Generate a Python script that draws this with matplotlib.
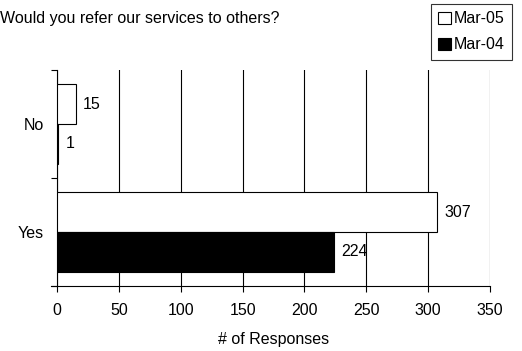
import numpy as np
import matplotlib.pyplot as plt
from matplotlib.patches import Patch

plt.rcParams['font.family'] = ['Liberation Sans', 'DejaVu Sans']

categories = ['No', 'Yes']
mar05 = [15, 307]
mar04 = [1, 224]
series_names = ['Mar-05', 'Mar-04']
xticks = [0, 50, 100, 150, 200, 250, 300, 350]

FS = 11.5
W, H = 522, 351
fig = plt.figure(figsize=(W / 100, H / 100), dpi=100)
ax = fig.add_axes([57 / W, 1 - 286 / H, (490 - 57) / W, (286 - 70) / H])

# No on top, Yes below
ypos = np.array([1, 0])
bh = 0.37
ax.barh(ypos + bh / 2, mar05, height=bh, color='white', edgecolor='black', linewidth=0.8, zorder=3)
ax.barh(ypos - bh / 2, mar04, height=bh, color='black', edgecolor='black', linewidth=0.8, zorder=3)

for y, v in zip(ypos, mar05):
    ax.text(v + 6, y + bh / 2, str(v), va='center', ha='left', fontsize=FS, zorder=4)
for y, v in zip(ypos, mar04):
    ax.text(v + 6, y - bh / 2, str(v), va='center', ha='left', fontsize=FS, zorder=4)

ax.set_xlim(0, 350)
ax.set_ylim(-0.5, 1.5)
ax.set_xticks(xticks)
ax.set_yticks([-0.5, 0.5, 1.5], minor=False)
ax.set_yticklabels([])
ax.set_yticks(ypos, minor=True)
ax.set_yticklabels(categories, minor=True, fontsize=FS)
ax.tick_params(axis='y', which='minor', length=0, pad=9.5)
ax.tick_params(axis='y', which='major', length=4.5, width=0.8, direction='out')
ax.tick_params(axis='x', length=4.5, width=0.8, direction='out', labelsize=FS, pad=8)

ax.grid(axis='x', color='black', linewidth=0.8, zorder=1)
ax.spines['top'].set_visible(False)
ax.spines['right'].set_visible(False)
ax.spines['left'].set_linewidth(0.8)
ax.spines['bottom'].set_linewidth(0.8)
ax.spines['bottom'].set_bounds(-5, 350)
ax.set_xlabel('# of Responses', fontsize=FS, labelpad=10)

fig.text(0, 1 - 18 / H, 'Would you refer our services to others?', fontsize=FS,
         va='center', ha='left')

handles = [Patch(facecolor='white', edgecolor='black', linewidth=0.8),
           Patch(facecolor='black', edgecolor='black', linewidth=0.8)]
leg = fig.legend(handles, series_names, loc='upper right', bbox_to_anchor=(512 / W, 1 - 4 / H),
                 fontsize=FS, frameon=True, fancybox=False, edgecolor='black',
                 handlelength=0.8, handleheight=0.8, handletextpad=0.2,
                 borderpad=0.45, labelspacing=0.7, borderaxespad=0)
leg.get_frame().set_linewidth(0.8)

fig.savefig('out.png', dpi=100)
